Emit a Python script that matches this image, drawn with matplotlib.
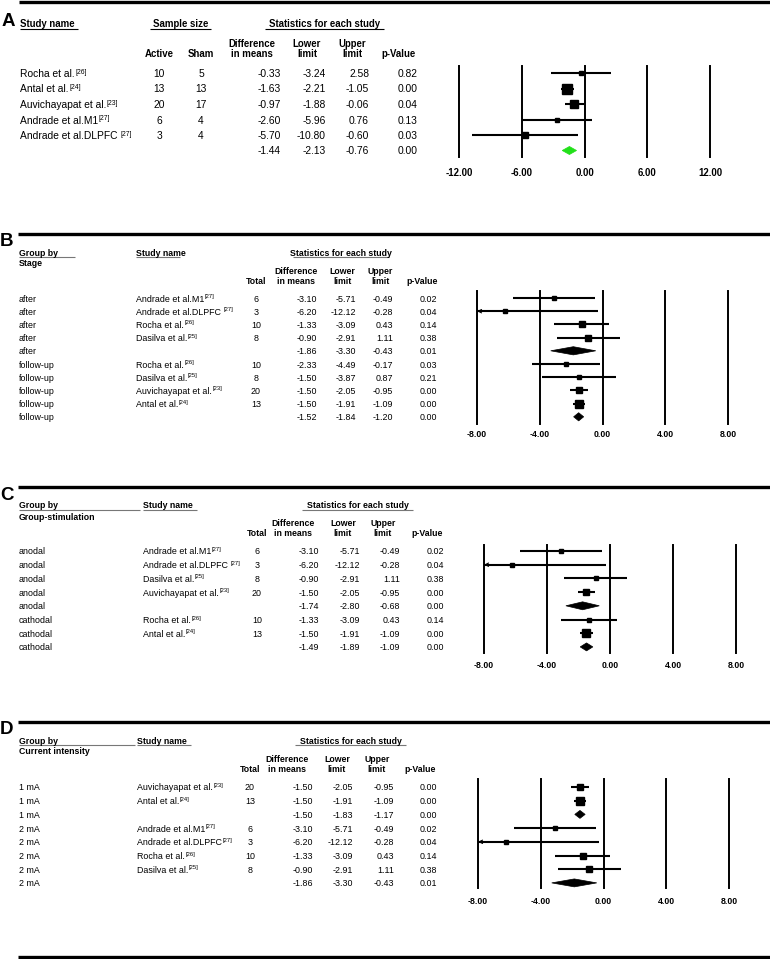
import matplotlib
matplotlib.use("Agg")
import matplotlib.pyplot as plt
from matplotlib.transforms import blended_transform_factory
from matplotlib.patches import Polygon

plt.rcParams['font.family'] = ['Liberation Sans', 'DejaVu Sans']

# ---------------- Panel A data ----------------
A_studies = ["Rocha et al.", "Antal et al.", "Auvichayapat et al.", "Andrade et al.M1", "Andrade et al.DLPFC "]
A_refs = ["26", "24", "23", "27", "27"]
A_active = [10, 13, 20, 6, 3]
A_sham = [5, 13, 17, 4, 4]
A_diff = [-0.33, -1.63, -0.97, -2.60, -5.70, -1.44]
A_lower = [-3.24, -2.21, -1.88, -5.96, -10.80, -2.13]
A_upper = [2.58, -1.05, -0.06, 0.76, -0.60, -0.76]
A_p = [0.82, 0.00, 0.04, 0.13, 0.03, 0.00]
A_weight = [5, 10, 7.5, 4.5, 5.5, None]   # relative box size (last row = overall)
A_ticks = [-12, -6, 0, 6, 12]

# ---------------- Panel B data ----------------
B_group = ["after"] * 5 + ["follow-up"] * 5
B_studies = ["Andrade et al.M1", "Andrade et al.DLPFC ", "Rocha et al.", "Dasilva et al.", "",
             "Rocha et al.", "Dasilva et al.", "Auvichayapat et al.", "Antal et al.", ""]
B_refs = ["27", "27", "26", "25", "", "26", "25", "23", "24", ""]
B_total = [6, 3, 10, 8, None, 10, 8, 20, 13, None]
B_diff = [-3.10, -6.20, -1.33, -0.90, -1.86, -2.33, -1.50, -1.50, -1.50, -1.52]
B_lower = [-5.71, -12.12, -3.09, -2.91, -3.30, -4.49, -3.87, -2.05, -1.91, -1.84]
B_upper = [-0.49, -0.28, 0.43, 1.11, -0.43, -0.17, 0.87, -0.95, -1.09, -1.20]
B_p = [0.02, 0.04, 0.14, 0.38, 0.01, 0.03, 0.21, 0.00, 0.00, 0.00]
B_weight = [4.7, 4, 6.7, 5.3, None, 3.3, 3.3, 6.5, 7.5, None]
B_ticks = [-8, -4, 0, 4, 8]

# ---------------- Panel C data ----------------
C_group = ["anodal"] * 5 + ["cathodal"] * 3
C_studies = ["Andrade et al.M1", "Andrade et al.DLPFC ", "Dasilva et al.", "Auvichayapat et al.", "",
             "Rocha et al.", "Antal et al.", ""]
C_refs = ["27", "27", "25", "23", "", "26", "24", ""]
C_total = [6, 3, 8, 20, None, 10, 13, None]
C_diff = [-3.10, -6.20, -0.90, -1.50, -1.74, -1.33, -1.50, -1.49]
C_lower = [-5.71, -12.12, -2.91, -2.05, -2.80, -3.09, -1.91, -1.89]
C_upper = [-0.49, -0.28, 1.11, -0.95, -0.68, 0.43, -1.09, -1.09]
C_p = [0.02, 0.04, 0.38, 0.00, 0.00, 0.14, 0.00, 0.00]
C_weight = [3.3, 3.3, 4, 6.7, None, 3.3, 7.5, None]
C_ticks = [-8, -4, 0, 4, 8]

# ---------------- Panel D data ----------------
D_group = ["1 mA"] * 3 + ["2 mA"] * 5
D_studies = ["Auvichayapat et al.", "Antal et al.", "", "Andrade et al.M1", "Andrade et al.DLPFC",
             "Rocha et al.", "Dasilva et al.", ""]
D_refs = ["23", "24", "", "27", "27", "26", "25", ""]
D_total = [20, 13, None, 6, 3, 10, 8, None]
D_diff = [-1.50, -1.50, -1.50, -3.10, -6.20, -1.33, -0.90, -1.86]
D_lower = [-2.05, -1.91, -1.83, -5.71, -12.12, -3.09, -2.91, -3.30]
D_upper = [-0.95, -1.09, -1.17, -0.49, -0.28, 0.43, 1.11, -0.43]
D_p = [0.00, 0.00, 0.00, 0.02, 0.04, 0.14, 0.38, 0.01]
D_weight = [6, 7.5, None, 4.7, 4, 6.7, 6, None]
D_ticks = [-8, -4, 0, 4, 8]

# ---------------- figure ----------------
W, H = 770, 959
fig = plt.figure(figsize=(W / 100, H / 100), dpi=100)
bg = fig.add_axes([0, 0, 1, 1])
bg.set_xlim(0, W)
bg.set_ylim(H, 0)
bg.axis('off')

VA = 'center_baseline'


def hline(y, x0, x1, lw, color='black'):
    bg.plot([x0, x1], [y, y], color=color, lw=lw, solid_capstyle='butt')


def row_text(tr, x, i, s, fs, ha):
    return bg.text(x, i, s, transform=tr, fontsize=fs, va=VA, ha=ha)


def study_text(tr, x, i, name, ref, fs):
    t = row_text(tr, x, i, name, fs, 'left')
    bg.annotate("[" + ref + "]", xy=(1, 1), xycoords=t, xytext=(0.4, 0.3),
                textcoords='offset points', fontsize=fs * 0.66, va='top', ha='left')


def make_forest_axes(left, right, top, bottom, ticks, row0, step, pad, tfs):
    ax = fig.add_axes([left / W, 1 - bottom / H, (right - left) / W, (bottom - top) / H])
    ax.set_xlim(ticks[0], ticks[-1])
    ax.set_ylim((bottom - row0) / step, (top - row0) / step)
    for t in ticks:
        ax.axvline(t, color='black', lw=1.4, clip_on=False)
    ax.set_xticks(ticks)
    ax.set_xticklabels([f"{t:.2f}" for t in ticks], fontweight='bold', fontsize=tfs)
    ax.tick_params(axis='x', length=0, pad=pad)
    ax.set_yticks([])
    for s in ax.spines.values():
        s.set_visible(False)
    ax.patch.set_visible(False)
    return ax


def draw_forest(ax, diff, lower, upper, weight, half_h, dcolor):
    xmin, xmax = ax.get_xlim()
    for i, (d, lo, hi, w) in enumerate(zip(diff, lower, upper, weight)):
        if w is None:
            ax.add_patch(Polygon([(lo, i), (d, i - half_h), (hi, i), (d, i + half_h)],
                                 closed=True, fc=dcolor, ec=dcolor, lw=0.5))
        else:
            ax.plot([max(lo, xmin), min(hi, xmax)], [i, i], color='black', lw=1.5,
                    solid_capstyle='butt', clip_on=False)
            ax.plot([d], [i], marker='s', ms=w * 0.72, color='black', clip_on=False)
            if lo < xmin:
                ax.annotate('', xy=(xmin, i), xytext=(xmin + 0.7, i),
                            arrowprops=dict(arrowstyle='->', color='black', lw=0.8,
                                            mutation_scale=6, shrinkA=0, shrinkB=0))


# ================= Panel A =================
hline(2, 19, 770, 2.4)
bg.text(2, 21, "A", fontsize=13.5, fontweight='bold', va='center', ha='left')
hfa = 6.9
bfa = 7.4
bg.text(20, 23, "Study name", fontsize=hfa, fontweight='bold', va=VA)
hline(29, 20, 78, 0.8)
bg.text(181, 23, "Sample size", fontsize=hfa, fontweight='bold', va=VA, ha='center')
hline(29, 150, 211, 0.8)
bg.text(325, 23, "Statistics for each study", fontsize=hfa, fontweight='bold', va=VA, ha='center')
hline(29, 265, 384, 0.8)
for x, l1, l2 in [(159, "", "Active"), (201, "", "Sham"), (252, "Difference", "in means"),
                  (307, "Lower", "limit"), (352, "Upper", "limit"), (399, "", "p-Value")]:
    if l1:
        bg.text(x, 43, l1, fontsize=hfa, fontweight='bold', va=VA, ha='center')
    bg.text(x, 53, l2, fontsize=hfa, fontweight='bold', va=VA, ha='center')

axA = make_forest_axes(459, 710, 66, 157, A_ticks, 73, 15.5, 8, 6.9)
draw_forest(axA, A_diff, A_lower, A_upper, A_weight, 0.26, '#22e01a')
trA = blended_transform_factory(bg.transData, axA.transData)
for i in range(len(A_diff)):
    if i < len(A_studies):
        study_text(trA, 20, i, A_studies[i], A_refs[i], bfa)
        row_text(trA, 159, i, str(A_active[i]), bfa, 'center')
        row_text(trA, 201, i, str(A_sham[i]), bfa, 'center')
    row_text(trA, 281, i, f"{A_diff[i]:.2f}", bfa, 'right')
    row_text(trA, 326, i, f"{A_lower[i]:.2f}", bfa, 'right')
    row_text(trA, 369, i, f"{A_upper[i]:.2f}", bfa, 'right')
    row_text(trA, 418, i, f"{A_p[i]:.2f}", bfa, 'right')


# ================= Panels B-D =================
def grouped_panel(letter, line_y, letter_y, head_y, group_title, gb_ul_end, study_x, study_ul_end,
                  stat_ul, col_total, col_diff_h, col_low_h, col_up_h, col_p_h,
                  r_diff, r_low, r_up, r_p, axbox, ticks, row0, step, pad, half_h,
                  group, studies, refs, total, diff, lower, upper, p, weight):
    hf = 6.3
    bf = 6.4
    hline(line_y, 18, 770, 2.4)
    bg.text(0, letter_y, letter, fontsize=13.5, fontweight='bold', va='center', ha='left')
    bg.text(19, head_y, "Group by", fontsize=hf, fontweight='bold', va=VA)
    hline(head_y + 5, 19, gb_ul_end, 0.8, '#777777')
    bg.text(19, head_y + 11, group_title, fontsize=hf, fontweight='bold', va=VA)
    bg.text(study_x, head_y, "Study name", fontsize=hf, fontweight='bold', va=VA)
    hline(head_y + 5, study_x, study_ul_end, 0.8, '#777777')
    bg.text((stat_ul[0] + stat_ul[1]) / 2, head_y, "Statistics for each study", fontsize=hf,
            fontweight='bold', va=VA, ha='center')
    hline(head_y + 5, stat_ul[0], stat_ul[1], 0.8, '#777777')
    y2 = head_y + 28
    y1 = head_y + 18
    bg.text(col_total, y2, "Total", fontsize=hf, fontweight='bold', va=VA, ha='center')
    for x, l1, l2 in [(col_diff_h, "Difference", "in means"), (col_low_h, "Lower", "limit"),
                      (col_up_h, "Upper", "limit")]:
        bg.text(x, y1, l1, fontsize=hf, fontweight='bold', va=VA, ha='center')
        bg.text(x, y2, l2, fontsize=hf, fontweight='bold', va=VA, ha='center')
    bg.text(col_p_h, y2, "p-Value", fontsize=hf, fontweight='bold', va=VA, ha='center')

    ax = make_forest_axes(axbox[0], axbox[1], axbox[2], axbox[3], ticks, row0, step, pad, 6.3)
    draw_forest(ax, diff, lower, upper, weight, half_h, 'black')
    tr = blended_transform_factory(bg.transData, ax.transData)
    for i in range(len(diff)):
        row_text(tr, 19, i, group[i], bf, 'left')
        if studies[i]:
            study_text(tr, study_x, i, studies[i], refs[i], bf)
        if total[i] is not None:
            row_text(tr, col_total, i, str(total[i]), bf, 'center')
        row_text(tr, r_diff, i, f"{diff[i]:.2f}", bf, 'right')
        row_text(tr, r_low, i, f"{lower[i]:.2f}", bf, 'right')
        row_text(tr, r_up, i, f"{upper[i]:.2f}", bf, 'right')
        row_text(tr, r_p, i, f"{p[i]:.2f}", bf, 'right')


grouped_panel("B", 234, 241, 252, "Stage", 75, 136, 180, (293, 389),
              256, 296, 342, 380, 422, 317, 356, 393, 437,
              (477, 728, 291, 424), B_ticks, 298, 13.2, 4.5, 0.31,
              B_group, B_studies, B_refs, B_total, B_diff, B_lower, B_upper, B_p, B_weight)

grouped_panel("C", 487, 495, 505, "Group-stimulation", 140, 143, 197, (302, 413),
              257, 293, 343, 383, 427, 319, 360, 400, 444,
              (484, 736, 545, 653), C_ticks, 551, 13.7, 5.8, 0.29,
              C_group, C_studies, C_refs, C_total, C_diff, C_lower, C_upper, C_p, C_weight)

grouped_panel("D", 722, 730, 740, "Current intensity", 135, 137, 191, (295, 406),
              250, 287, 337, 377, 420, 313, 353, 394, 437,
              (478, 729, 779, 888), D_ticks, 787, 13.7, 6.5, 0.29,
              D_group, D_studies, D_refs, D_total, D_diff, D_lower, D_upper, D_p, D_weight)

hline(957, 18, 770, 2.4)

fig.savefig("out.png", dpi=100)
